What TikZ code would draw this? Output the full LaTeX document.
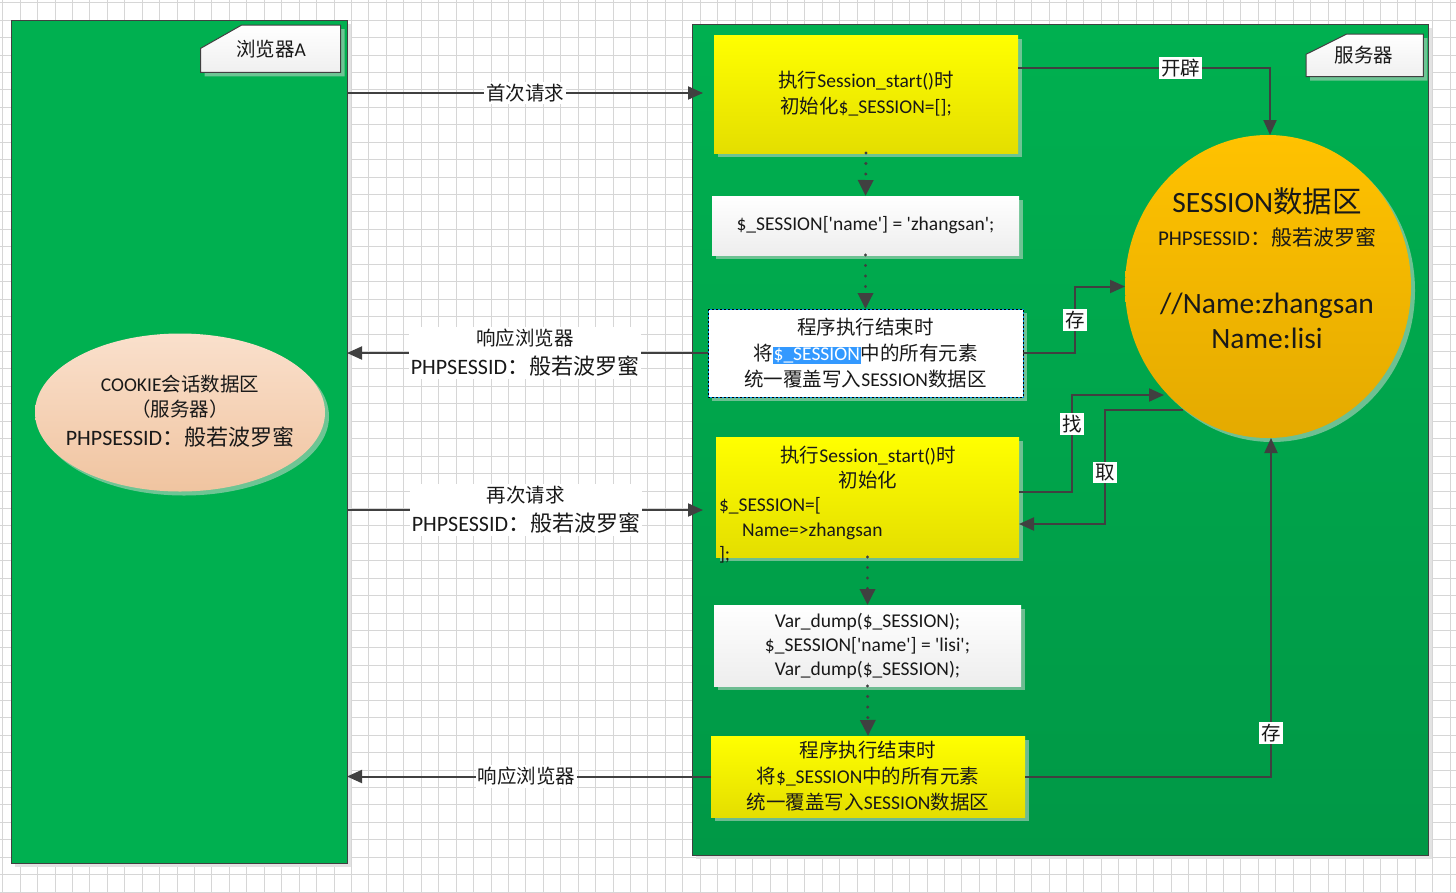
\documentclass[tikz,border=0pt]{standalone}
\usepackage{fontspec}
\setmainfont{Carlito}
\newfontfamily\cjk{Noto Sans CJK SC}
\usetikzlibrary{arrows.meta,shapes.geometric,shadows,calc}
\newcommand\zh[1]{{\cjk #1}}
\newcommand\sq{\textquotesingle}
\definecolor{gridc}{RGB}{214,214,214}
\definecolor{panelg}{RGB}{0,176,80}
\definecolor{panelgd}{RGB}{0,152,70}
\definecolor{edge}{RGB}{64,64,64}
\definecolor{ylw}{RGB}{255,255,0}
\definecolor{ylwd}{RGB}{228,222,0}
\definecolor{orgt}{RGB}{255,194,0}
\definecolor{orgb}{RGB}{228,170,0}
\definecolor{peacht}{RGB}{250,224,204}
\definecolor{peachb}{RGB}{240,196,160}
\definecolor{hlblue}{RGB}{51,153,255}
\definecolor{selblue}{RGB}{0,150,230}
\definecolor{txt}{RGB}{25,25,25}
\definecolor{shad}{RGB}{200,215,205}

\begin{document}
\begin{tikzpicture}[x=1pt, y=-1pt,
  every node/.style={inner sep=0pt, outer sep=0pt, text=txt},
  bodyfont/.style={font=\fontsize{19.5}{26}\selectfont},
  panel/.style={rectangle, draw=edge, line width=1pt,
    general shadow={fill=black!11, shadow xshift=4pt, shadow yshift=-4pt}},
  softshadow/.style={general shadow={fill=shad, fill opacity=0.55, shadow xshift=4pt, shadow yshift=-4pt}},
  ybox/.style={rectangle, top color=ylw, bottom color=ylwd, softshadow, align=center, bodyfont},
  wbox/.style={rectangle, top color=white, bottom color=black!7, softshadow, align=center, bodyfont},
  tagshape/.style={draw=edge, line width=1pt, top color=white, bottom color=black!6, softshadow},
  conn/.style={draw=edge, line width=2pt, -{Triangle[length=15pt,width=13pt]}},
  dotconn/.style={draw=edge, line width=3.4pt, line cap=round, dash pattern=on 0.01pt off 10.5pt,
    -{Triangle[length=16pt,width=15pt]}},
  lbl/.style={fill=white, inner sep=2pt, bodyfont},
]
\useasboundingbox (0,0) rectangle (1456,892);
\fill[white] (0,0) rectangle (1456,892);

% background grid
\foreach \i in {0,...,83} \draw[gridc, line width=1pt] ({2.7+17.44*\i},0) -- ({2.7+17.44*\i},892);
\foreach \j in {0,...,51} \draw[gridc, line width=1pt] (0,{2.7+17.44*\j}) -- (1456,{2.7+17.44*\j});

% the two swim lanes
\node[panel, fill=panelg, minimum width=336pt, minimum height=843pt] (lp) at (179,441.5) {};
\node[panel, top color=panelg, bottom color=panelgd, minimum width=736pt, minimum height=831pt] (rp) at (1060,439.5) {};

% lane tags
\path[tagshape] (200.7,48.3) -- (241.7,25) -- (340.7,25) -- (340.7,72.3) -- (200.7,72.3) -- cycle;
\node[bodyfont] (tagA) at (271,49) {\zh{浏览器}A};
\path[tagshape] (1306,54.3) -- (1346.7,34) -- (1423.3,34) -- (1423.3,76.7) -- (1306,76.7) -- cycle;
\node[bodyfont] (tagS) at (1364,55) {\zh{服务器}};

% cookie store in the browser
\node[ellipse, top color=peacht, bottom color=peachb, softshadow, minimum width=290pt, minimum height=158pt] (cookie) at (180,412.5) {};
\node[align=center, font=\fontsize{19.5}{25}\selectfont] (cookietext) at (180,411)
  {COOKIE\zh{会话数据区}\\ \zh{（服务器）}\\[4pt]{\fontsize{22}{26}\selectfont PHPSESSID\zh{：般若波罗蜜}}};

% session store on the server
\node[ellipse, top color=orgt, bottom color=orgb, softshadow, minimum width=286pt, minimum height=303pt] (sess) at (1268,286.5) {};
\node[align=center, font=\fontsize{29.5}{35}\selectfont] (sesstext) at (1267,268)
  {SESSION\zh{数据区}\\[-2pt]{\fontsize{21}{30}\selectfont PHPSESSID\zh{：般若波罗蜜}}\\[33pt]//Name:zhangsan\\Name:lisi};

% server-side steps
\node[ybox, minimum width=304pt, minimum height=118pt] (b1) at (866,94)
  {\zh{执行}Session\_start()\zh{时}\\\zh{初始化}\$\_SESSION=[];};
\node[wbox, minimum width=307pt, minimum height=59pt] (b2) at (865.5,225.5)
  {\$\_SESSION[\sq name\sq] = \sq zhangsan\sq;};
\node[rectangle, fill=white, draw=selblue, line width=1pt, softshadow, align=center, bodyfont,
  minimum width=315pt, minimum height=88pt] (b3) at (865.5,353)
  {\zh{程序执行结束时}\\\zh{将}{\setlength{\fboxsep}{1pt}\colorbox{hlblue}{\textcolor{white}{\$\_SESSION}}}\zh{中的所有元素}\\\zh{统一覆盖写入}SESSION\zh{数据区}};
\draw[black, line width=1pt, dash pattern=on 2pt off 2pt] (b3.north west) rectangle (b3.south east);
\node[ybox, minimum width=303pt, minimum height=120pt] (b4) at (867.5,497) {};
\node[align=left, text width=298pt, font=\fontsize{19.5}{24.5}\selectfont] (b4text) at (868,505)
  {\makebox[298pt]{\zh{执行}Session\_start()\zh{时}}\\\makebox[298pt]{\zh{初始化}}\\\$\_SESSION=[\\\hspace*{23pt}Name=>zhangsan\\];};
\node[wbox, minimum width=307pt, minimum height=81pt, font=\fontsize{19.5}{24}\selectfont] (b5) at (867.5,645.5)
  {Var\_dump(\$\_SESSION);\\\$\_SESSION[\sq name\sq] = \sq lisi\sq;\\Var\_dump(\$\_SESSION);};
\node[ybox, minimum width=314pt, minimum height=81pt] (b6) at (868,776.5)
  {\zh{程序执行结束时}\\\zh{将}\$\_SESSION\zh{中的所有元素}\\\zh{统一覆盖写入}SESSION\zh{数据区}};

% program flow inside the server
\draw[dotconn] (b1.south) -- (b2.north);
\draw[dotconn] (b2.south) -- (b3.north);
\draw[dotconn] (b4.south) -- (b5.north);
\draw[dotconn] (b5.south) -- (b6.north);

% request / response traffic
\coordinate (b1in) at (714,93);
\coordinate (b4in) at (716,510);
\draw[conn, shorten >=11pt] (lp.east |- b1in) -- node[lbl, pos=0.485] (l1) {\zh{首次请求}} (b1in);
\draw[conn] (b3.west) -- node[lbl, pos=0.507, align=center, font=\fontsize{19.5}{29}\selectfont] (l2)
  {\zh{响应浏览器}\\{\fontsize{22}{29}\selectfont PHPSESSID\zh{：般若波罗蜜}}} (lp.east |- b3.west);
\draw[conn, shorten >=13pt] (lp.east |- b4in) -- node[lbl, pos=0.485, align=center, font=\fontsize{19.5}{29}\selectfont] (l3)
  {\zh{再次请求}\\{\fontsize{22}{29}\selectfont PHPSESSID\zh{：般若波罗蜜}}} (b4in);
\draw[conn] (b6.west) -- node[lbl, pos=0.507] (l4) {\zh{响应浏览器}} (lp.east |- b6.west);

% session store access
\coordinate (b1out) at (1018,68);
\coordinate (sesstop) at (1270,135);
\draw[conn] (b1out) -| node[lbl, pos=0.323] (l5) {\zh{开辟}} (sesstop);
\draw[conn] (b3.east) -| node[lbl, pos=0.75] (l6) {\zh{存}} ($(sess.west)+(-50,0)$) -- (sess.west);
\coordinate (b4out) at (1019,492);
\coordinate (findcorner) at (1072,395);
\coordinate (findend) at (1164,395);
\draw[conn] (b4out) -| node[lbl, pos=0.85] (l7) {\zh{找}} (findcorner) -- (findend);
\coordinate (takestart) at (1183,410);
\coordinate (takecorner) at (1105,524);
\coordinate (b4back) at (1019,524);
\draw[conn] (takestart) -| node[lbl, pos=0.775] (l8) {\zh{取}} (takecorner) -- (b4back);
\coordinate (sessbot) at (1271,438);
\draw[conn] (b6.east) -| node[lbl, pos=0.564] (l9) {\zh{存}} (sessbot);
\end{tikzpicture}
\end{document}
